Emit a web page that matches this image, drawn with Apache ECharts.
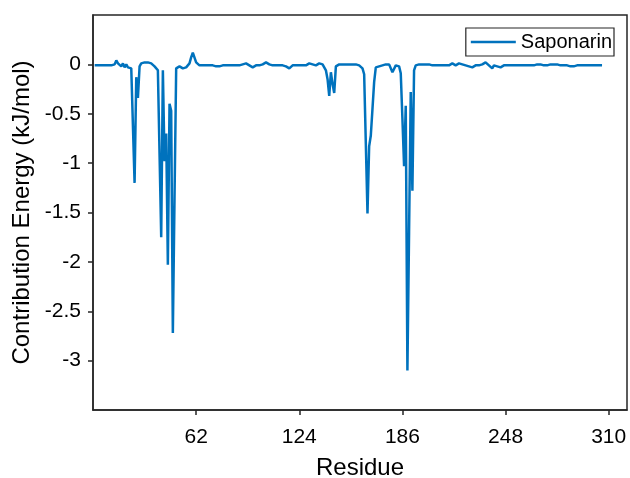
<!DOCTYPE html>
<html lang="en">
<head>
	<meta charset="UTF-8">
	<title>Saponarin</title>
	<style type="text/css">
	body{margin:0;padding:0;background:#fff;}
	#main{width:630px;height:478px;}
	</style>
</head>
<body>
	<div id="main"></div>
	<script src="https://cdn.jsdelivr.net/npm/echarts@6/dist/echarts.min.js"></script>
	<script>
		// residue 1..306
		var energy = [
			-0.01,-0.01,-0.01,-0.01,-0.01,-0.01,-0.01,-0.01,-0.01,-0.01,
			-0.01,-0.01,0.00,0.04,0.01,-0.01,-0.02,0.01,-0.03,0.00,
			-0.03,-0.01,-0.04,-0.05,-1.20,-0.13,-0.34,-0.02,0.01,0.02,
			0.02,0.01,0.02,0.01,0.01,0.00,-0.02,-0.03,-0.06,-0.08,
			-1.75,-0.06,-0.98,-0.70,-2.03,-0.40,-0.47,-2.72,-1.36,-0.04,
			-0.03,-0.02,-0.03,-0.04,-0.06,-0.03,-0.01,0.01,0.07,0.12,
			0.12,0.02,0.00,-0.01,-0.01,-0.01,-0.01,-0.01,-0.01,-0.01,
			-0.01,-0.01,-0.02,-0.02,-0.03,-0.02,-0.01,-0.01,-0.01,-0.01,
			-0.01,-0.01,-0.01,-0.01,-0.01,-0.01,-0.01,-0.01,0.00,0.00,
			0.02,0.01,0.00,-0.01,-0.02,-0.03,-0.04,-0.01,-0.01,-0.01,
			-0.01,0.00,0.01,0.02,0.03,0.00,-0.01,-0.01,-0.01,-0.01,
			-0.01,-0.01,-0.01,-0.01,-0.02,-0.02,-0.03,-0.04,-0.02,-0.01,
			-0.01,-0.01,-0.01,-0.01,-0.01,-0.01,-0.01,-0.01,0.00,0.01,
			0.02,0.00,-0.01,-0.01,0.00,0.01,0.02,0.00,-0.02,-0.06,
			-0.15,-0.32,-0.08,-0.20,-0.29,-0.02,0.00,0.00,0.00,0.00,
			0.00,0.00,0.00,0.00,0.00,0.00,0.00,0.00,0.00,-0.01,
			-0.01,-0.04,-0.10,-0.80,-1.51,-0.83,-0.72,-0.45,-0.18,-0.03,
			-0.03,-0.02,-0.02,-0.01,-0.01,0.00,0.00,0.00,-0.02,-0.08,
			-0.07,-0.01,-0.02,-0.02,-0.09,-0.55,-1.03,-0.42,-3.10,-1.70,
			-0.28,-1.28,-0.06,-0.01,0.00,0.00,0.00,0.00,0.00,0.00,
			0.00,0.00,0.00,-0.01,-0.01,-0.01,-0.01,-0.01,-0.01,-0.01,
			-0.01,-0.01,-0.01,-0.01,0.00,0.01,0.00,-0.01,0.00,0.01,
			0.02,0.00,-0.01,-0.01,-0.01,-0.02,-0.02,-0.03,-0.02,-0.01,
			-0.01,-0.01,-0.01,0.00,0.01,0.02,0.00,-0.01,-0.03,-0.04,
			-0.01,-0.01,-0.02,-0.02,-0.03,-0.02,-0.01,-0.01,-0.01,-0.01,
			-0.01,-0.01,-0.01,-0.01,-0.01,-0.01,-0.01,-0.01,-0.01,-0.01,
			-0.01,-0.01,-0.01,-0.01,-0.01,-0.01,0.00,0.01,0.00,-0.02,
			-0.01,-0.01,-0.01,-0.01,0.00,0.00,0.00,0.01,0.00,-0.01,
			-0.01,-0.01,-0.01,-0.01,-0.01,-0.01,-0.02,-0.02,-0.02,-0.01,
			-0.01,-0.01,-0.01,-0.01,-0.01,-0.01,-0.01,-0.01,-0.01,-0.01,
			-0.01,-0.01,-0.01,-0.01,-0.01,-0.01
		];
		var xTicks = [62, 124, 186, 248, 310];
		var yTicks = [-3, -2.5, -2, -1.5, -1, -0.5, 0];

		var chartData = energy.map(function(v, i){
			return [i + 1, v];
		});

		var myChart = echarts.init(document.getElementById('main'));
		var axisColor = '#262626';
		var font = 'Liberation Sans, Arial, sans-serif';

		var option = {
			animation: false,
			grid: {
				left: 93, right: 3, top: 15, bottom: 68,
				outerBoundsMode: 'none',
				containLabel: false,
				show: true,
				borderColor: axisColor,
				borderWidth: 1.5,
				backgroundColor: '#fff'
			},
			legend: {
				data: ['Saponarin'],
				right: 16,
				top: 28,
				backgroundColor: '#fff',
				borderColor: axisColor,
				borderWidth: 1.2,
				borderRadius: 0,
				padding: [4, 2, 4, 5],
				icon: 'rect',
				itemWidth: 45,
				itemHeight: 2.5,
				textStyle: {color: '#000', fontSize: 20, fontFamily: font}
			},
			xAxis: {
				type: 'value',
				min: 0,
				max: 321,
				name: 'Residue',
				nameLocation: 'middle',
				nameGap: 46,
				nameTextStyle: {color: '#000', fontSize: 24, fontFamily: font},
				axisLine: {show: true, onZero: false, lineStyle: {color: axisColor, width: 1.5}},
				axisTick: {show: true, inside: false, length: 5, customValues: xTicks,
					lineStyle: {color: axisColor, width: 1.5}},
				axisLabel: {color: '#000', fontSize: 21, fontFamily: font, margin: 17,
					customValues: xTicks},
				splitLine: {show: false}
			},
			yAxis: {
				type: 'value',
				min: -3.5,
				max: 0.5,
				name: 'Contribution Energy (kJ/mol)',
				nameLocation: 'middle',
				nameGap: 58,
				nameTextStyle: {color: '#000', fontSize: 24, fontFamily: font},
				axisLine: {show: true, onZero: false, lineStyle: {color: axisColor, width: 1.5}},
				axisTick: {show: true, inside: false, length: 5, customValues: yTicks,
					lineStyle: {color: axisColor, width: 1.5}},
				axisLabel: {color: '#000', fontSize: 21, fontFamily: font, margin: 12,
					customValues: yTicks},
				splitLine: {show: false}
			},
			series: [{
				name: 'Saponarin',
				type: 'line',
				data: chartData,
				symbol: 'none',
				color: '#0072BD',
				lineStyle: {color: '#0072BD', width: 2.5}
			}]
		};
		myChart.setOption(option);
	</script>
</body>
</html>
